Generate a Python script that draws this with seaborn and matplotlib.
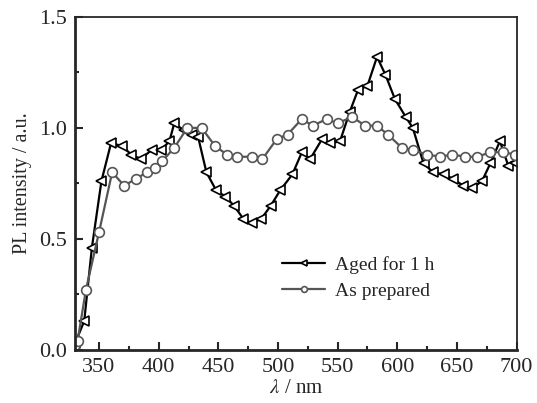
import numpy as np
import pandas as pd
import matplotlib
matplotlib.use("Agg")
import matplotlib.pyplot as plt
from matplotlib.ticker import MultipleLocator
import seaborn as sns

# data (marker positions)
wl_aged = [330, 337.6, 344, 352, 360, 369, 377, 385, 394, 402, 409, 413, 421, 428,
           433, 440, 448, 456, 463, 471, 478, 486, 494, 502, 512, 520, 527, 537,
           544, 552, 560, 567, 575, 583, 590, 598, 607, 613, 622, 630, 639, 647,
           655, 663, 671, 678, 686, 693, 699]
pl_aged = [0.03, 0.13, 0.46, 0.76, 0.93, 0.92, 0.88, 0.86, 0.90, 0.90, 0.94, 1.02, 0.99, 0.97,
           0.96, 0.80, 0.72, 0.69, 0.65, 0.59, 0.57, 0.59, 0.65, 0.72, 0.79, 0.89, 0.86, 0.95,
           0.93, 0.94, 1.07, 1.17, 1.19, 1.32, 1.24, 1.13, 1.05, 1.00, 0.84, 0.80, 0.79, 0.77,
           0.74, 0.73, 0.76, 0.84, 0.94, 0.83, 0.84]

wl_prep = [330, 332, 339, 350, 361, 371, 381, 390, 397, 403, 413, 424, 436, 447, 457,
           466, 478, 487, 499, 508, 520, 529, 541, 550, 562, 573, 583, 592, 604, 613,
           625, 636, 646, 657, 667, 678, 689, 699]
pl_prep = [0.02, 0.04, 0.27, 0.53, 0.80, 0.74, 0.77, 0.80, 0.82, 0.85, 0.91, 1.00, 1.00, 0.92, 0.88,
           0.87, 0.87, 0.86, 0.95, 0.97, 1.04, 1.01, 1.04, 1.02, 1.05, 1.01, 1.01, 0.97, 0.91, 0.90,
           0.88, 0.87, 0.88, 0.87, 0.87, 0.89, 0.89, 0.88]

labels = ["Aged for 1 h", "As prepared"]

sns.set_style("ticks")
plt.rcParams['font.family'] = ['Liberation Serif', 'DejaVu Serif']
plt.rcParams['mathtext.fontset'] = 'stix'

df = pd.concat([
    pd.DataFrame({"wl": wl_aged, "pl": pl_aged, "sample": labels[0]}),
    pd.DataFrame({"wl": wl_prep, "pl": pl_prep, "sample": labels[1]}),
])

fig, ax = plt.subplots(figsize=(5.37, 4.03), dpi=100)
fig.subplots_adjust(left=0.14, right=0.962, top=0.958, bottom=0.132)

sns.lineplot(data=df[df["sample"] == labels[0]], x="wl", y="pl", ax=ax, color="black",
             lw=1.6, marker="<", markersize=7, markerfacecolor="white",
             markeredgecolor="black", markeredgewidth=1.2, label=labels[0], sort=False)
sns.lineplot(data=df[df["sample"] == labels[1]], x="wl", y="pl", ax=ax, color="#555555",
             lw=1.6, marker="o", markersize=7, markerfacecolor="white",
             markeredgecolor="#555555", markeredgewidth=1.2, label=labels[1], sort=False)

ax.set_xlim(330, 700)
ax.set_ylim(0, 1.5)
ax.xaxis.set_major_locator(MultipleLocator(50))
ax.xaxis.set_minor_locator(MultipleLocator(25))
ax.yaxis.set_major_locator(MultipleLocator(0.5))
ax.yaxis.set_minor_locator(MultipleLocator(0.25))
ax.tick_params(which="both", direction="in", labelsize=16, pad=6)
ax.tick_params(which="major", length=6, width=1.5)
ax.tick_params(which="minor", length=3, width=1.5)
for s in ["left", "bottom"]:
    ax.spines[s].set_linewidth(2)
for s in ["top", "right"]:
    ax.spines[s].set_linewidth(1.3)

ax.set_xlabel(r"$\lambda$ / nm", fontsize=15, labelpad=1)
ax.set_ylabel("PL intensity / a.u.", fontsize=14.5, labelpad=5)

leg = ax.legend(loc="center left", bbox_to_anchor=(0.43, 0.216), frameon=False,
                fontsize=14, handlelength=2.2, handletextpad=0.5,
                markerscale=0.6, labelspacing=0.45)

fig.savefig("out.png", dpi=100)
